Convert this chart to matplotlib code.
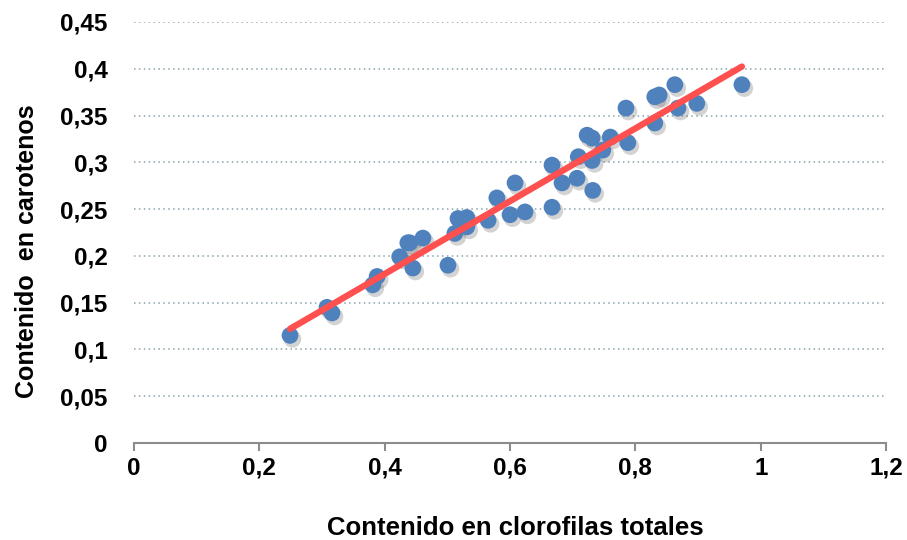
import matplotlib
matplotlib.use('Agg')
from matplotlib import pyplot as plt
from matplotlib import transforms
import numpy as np

# chlorophyll (x) vs carotene (y) content
clorofilas = [0.249, 0.308, 0.316, 0.381, 0.388, 0.424, 0.437, 0.440,
              0.445, 0.461, 0.501, 0.512, 0.517, 0.531, 0.531, 0.565,
              0.579, 0.600, 0.608, 0.624, 0.667, 0.667, 0.683, 0.707,
              0.709, 0.723, 0.731, 0.732, 0.731, 0.748, 0.760, 0.785,
              0.788, 0.831, 0.831, 0.838, 0.863, 0.868, 0.898, 0.970]
carotenos = [0.115, 0.145, 0.139, 0.169, 0.178, 0.199, 0.214, 0.214,
             0.187, 0.219, 0.190, 0.224, 0.240, 0.241, 0.231, 0.238,
             0.262, 0.244, 0.278, 0.247, 0.252, 0.297, 0.278, 0.283,
             0.306, 0.329, 0.326, 0.270, 0.302, 0.313, 0.327, 0.358,
             0.321, 0.342, 0.370, 0.372, 0.383, 0.358, 0.363, 0.383]

x_ticks = [0, 0.2, 0.4, 0.6, 0.8, 1, 1.2]
x_labels = ['0', '0,2', '0,4', '0,6', '0,8', '1', '1,2']
y_ticks = [0, 0.05, 0.1, 0.15, 0.2, 0.25, 0.3, 0.35, 0.4, 0.45]
y_labels = ['0', '0,05', '0,1', '0,15', '0,2', '0,25', '0,3', '0,35', '0,4', '0,45']

plt.rcParams['font.family'] = ['Liberation Sans', 'DejaVu Sans']

fig = plt.figure(figsize=(9.07, 5.4), dpi=100)
ax = fig.add_axes([0.1477, 0.1796, 0.8292, 0.7797])

x = np.array(clorofilas)
y = np.array(carotenos)

# soft shadow under the points
shadow = transforms.offset_copy(ax.transData, fig=fig, x=2.5, y=-3.5, units='dots')
ax.scatter(x, y, s=160, color='#6f6f6f', alpha=0.3, edgecolors='none',
           transform=shadow, zorder=2)
ax.scatter(x, y, s=145, color='#4f81bd', edgecolors='none', zorder=3)

# linear trend line
m, b = np.polyfit(x, y, 1)
xs = np.array([x.min(), x.max()])
ax.plot(xs, m * xs + b, color='#ff5050', linewidth=4.6,
        solid_capstyle='round', zorder=4)

ax.set_xlim(0, 1.2)
ax.set_ylim(0, 0.45)
ax.set_xticks(x_ticks)
ax.set_xticklabels(x_labels)
ax.set_yticks(y_ticks)
ax.set_yticklabels(y_labels)

for lab in ax.get_xticklabels() + ax.get_yticklabels():
    lab.set_fontweight('bold')
    lab.set_fontsize(17.5)

ax.tick_params(axis='y', length=0, pad=19)
ax.tick_params(axis='x', length=6, width=1.5, color='#8c8c8c', pad=4)

ax.yaxis.grid(True, linestyle=(0, (1, 2.2)), color='#8aa3ad', linewidth=1.1)
ax.set_axisbelow(True)

for side in ['left', 'right', 'top']:
    ax.spines[side].set_visible(False)
ax.spines['bottom'].set_color('#8c8c8c')
ax.spines['bottom'].set_linewidth(1.5)

ax.set_xlabel('Contenido en clorofilas totales', fontsize=18.5,
              fontweight='bold', labelpad=26)
ax.xaxis.label.set_x(0.507)
ax.set_ylabel('Contenido  en carotenos', fontsize=18,
              fontweight='bold', labelpad=15)
ax.yaxis.label.set_y(0.456)

fig.savefig('out.png', dpi=100)
